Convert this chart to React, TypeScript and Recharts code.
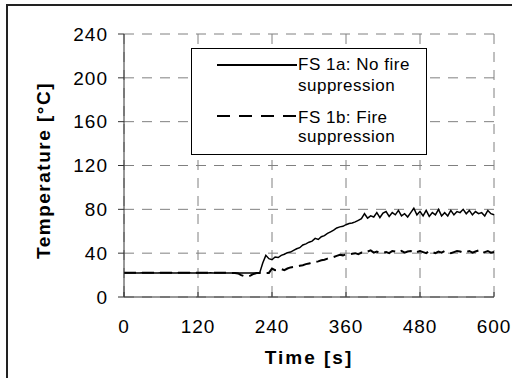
import { CartesianGrid, Label, Line, LineChart, XAxis, YAxis } from "recharts";

const FONT = "'Liberation Sans', Arial, sans-serif";

const xTicks = [0, 120, 240, 360, 480, 600];
const yTicks = [0, 40, 80, 120, 160, 200, 240];
const seriesNames = ["FS 1a: No fire suppression", "FS 1b: Fire suppression"];
const timeStep = 5; // seconds between readings

// FS 1a, no fire suppression (°C), one reading every 5 s from 0 to 600 s
const noSuppression = [
	22.0, 22.1, 22.0, 22.1, 22.0, 22.0, 22.1, 22.0, 22.0, 22.1,
	22.0, 22.0, 22.1, 22.0, 22.0, 22.1, 22.0, 22.0, 22.1, 22.0,
	22.0, 22.1, 22.0, 22.0, 22.1, 22.0, 22.0, 22.0, 22.1, 22.0,
	22.0, 22.0, 21.9, 22.0, 22.0, 21.9, 22.0, 21.9, 21.8, 21.8,
	21.9, 21.8, 21.8, 21.9, 22.0,
	31, 38, 35, 34, 36.5, 36, 38, 39, 40.5, 41,
	42.5, 44, 45, 47.5, 48.5, 50, 51, 53.5, 52.5, 55,
	56, 58, 59.5, 61, 63, 64, 64.5, 66, 67, 67.5,
	68.5, 70, 71.5, 76, 72, 74, 73, 77, 72.5, 76.5,
	78, 73.5, 77, 75, 79, 74, 76, 73, 77, 81,
	75, 78, 74, 79, 73.5, 77, 75, 80, 74, 77,
	74, 79, 75, 78, 77, 80, 76, 79, 75, 78,
	76, 77, 74, 79, 76, 75,
];

// FS 1b, fire suppression (°C), same time base
const withSuppression = [
	22.2, 22.2, 22.1, 22.2, 22.2, 22.1, 22.2, 22.2, 22.1, 22.2,
	22.2, 22.1, 22.2, 22.2, 22.1, 22.2, 22.2, 22.1, 22.2, 22.2,
	22.1, 22.2, 22.2, 22.1, 22.2, 22.2, 22.1, 22.2, 22.2, 22.1,
	22.2, 22.2, 22.1, 22.2, 22.1, 22.0, 22.0, 21.5, 20.0, 19.0,
	18.7, 19.5, 21.0, 21.8, 22.0, 22.0, 22.0, 22.0, 26.0, 24.5,
	25.0, 25.5, 24.5, 26.0, 27.0, 27.5, 28.0, 28.5, 29.0, 30.0,
	30.5, 31.5, 32.0, 32.5, 33.5, 34.0, 35.0, 36.0, 36.5, 37.5,
	38.5, 38.0, 39.0, 38.5, 39.5, 40.0, 39.0, 40.5, 40.0, 41.5,
	42.5, 40.5, 41.5, 40.0, 40.5, 41.0, 40.0, 42.0, 41.5, 40.5,
	42.0, 40.5, 41.5, 42.0, 40.0, 41.0, 42.0, 41.0, 40.0, 42.0,
	41.0, 40.0, 41.5, 40.5, 42.0, 41.0, 40.0, 41.0, 42.0, 41.5,
	40.5, 41.0, 42.0, 40.5, 41.5, 42.5, 40.0, 41.0, 42.0, 40.5,
	41.0,
];

const data = noSuppression.map((v, i) => ({
	time: i * timeStep,
	a: v,
	b: withSuppression[i],
}));

const tickStyle = { fill: "#000", fontSize: 19, fontFamily: FONT, letterSpacing: 1 };

function XTitle(props: any) {
	const vb = props.viewBox;
	return (
		<text
			x={vb.x + vb.width / 2}
			y={vb.y + 67}
			textAnchor='middle'
			fontFamily={FONT}
			fontWeight='bold'
			fontSize={19}
			letterSpacing={2}
			fill='#000'
		>
			Time [s]
		</text>
	);
}

function YTitle(props: any) {
	const vb = props.viewBox;
	const x = 50;
	const y = vb.y + vb.height / 2 + 5;
	return (
		<text
			x={x}
			y={y}
			transform={`rotate(-90, ${x}, ${y})`}
			textAnchor='middle'
			fontFamily={FONT}
			fontWeight='bold'
			fontSize={19}
			letterSpacing={1.5}
			fill='#000'
		>
			Temperature [°C]
		</text>
	);
}

function LegendBox() {
	const [nameA, nameB] = seriesNames.map((n) => {
		const k = n.indexOf(":");
		return [n.slice(0, k + 1) + " " + n.slice(k + 2).split(" ").slice(0, -1).join(" "), n.split(" ").slice(-1)[0]];
	});
	const textProps = { fontFamily: FONT, fontSize: 17, letterSpacing: 0.5, fill: "#000" };
	return (
		<div
			style={{
				position: "absolute",
				left: 191,
				top: 48,
				width: 234,
				height: 105,
				border: "1px solid #000",
				background: "#fff",
			}}
		>
			<svg width={234} height={105}>
				<line x1={25} x2={105} y1={16} y2={16} stroke='#000' strokeWidth={2} />
				<text x={106} y={21} {...textProps}>{nameA[0]}</text>
				<text x={106} y={42} {...textProps}>{nameA[1]}</text>
				<line x1={25} x2={105} y1={67} y2={67} stroke='#000' strokeWidth={2} strokeDasharray='13 9' />
				<text x={106} y={74} {...textProps}>{nameB[0]}</text>
				<text x={106} y={93} {...textProps}>{nameB[1]}</text>
			</svg>
		</div>
	);
}

export default function App() {
	return (
		<div
			style={{
				position: "absolute",
				left: 0,
				top: 0,
				width: 512,
				height: 378,
				overflow: "hidden",
				background: "#fff",
			}}
		>
			<div
				style={{
					position: "absolute",
					left: 6,
					top: 4,
					width: 600,
					height: 600,
					borderLeft: "2px solid #222",
					borderTop: "2px solid #222",
				}}
			/>
			<div style={{ position: "absolute", left: 0, top: 0 }}>
				<LineChart width={512} height={378} data={data} margin={{ top: 34, right: 18, bottom: 0, left: 0 }}>
					<CartesianGrid stroke='#808080' strokeDasharray='10 8' />
					<XAxis
						dataKey='time'
						type='number'
						domain={[0, 600]}
						ticks={xTicks}
						interval={0}
						height={81}
						tickSize={-5}
						tickMargin={28}
						tick={tickStyle}
						stroke='#333'
					>
						<Label content={XTitle} />
					</XAxis>
					<YAxis
						type='number'
						domain={[0, 240]}
						ticks={yTicks}
						interval={0}
						width={124}
						tickSize={6}
						tickMargin={10}
						tick={tickStyle}
						stroke='#333'
					>
						<Label content={YTitle} />
					</YAxis>
					<Line
						dataKey='a'
						name={seriesNames[0]}
						type='linear'
						stroke='#000'
						strokeWidth={1.5}
						dot={false}
						isAnimationActive={false}
					/>
					<Line
						dataKey='b'
						name={seriesNames[1]}
						type='linear'
						stroke='#000'
						strokeWidth={2}
						strokeDasharray='12 6'
						dot={false}
						isAnimationActive={false}
					/>
				</LineChart>
			</div>
			<LegendBox />
		</div>
	);
}
